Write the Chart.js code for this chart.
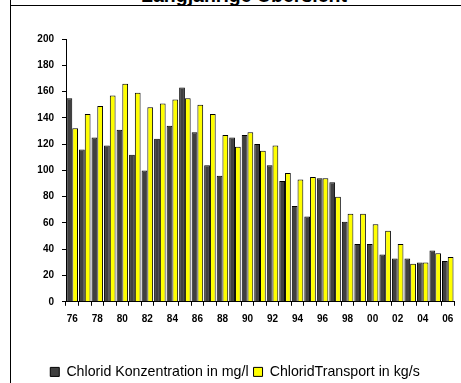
<!DOCTYPE html>
<html lang="de">
<head>
    <meta charset="UTF-8">
    <title>Langjährige Übersicht</title>
    <script src="https://cdn.jsdelivr.net/npm/chart.js"></script>
    <style>
        body { margin: 0; width: 461px; height: 383px; overflow: hidden; position: relative; background: #fff; font-family: "Liberation Sans", Arial, sans-serif; }
        #title { position: absolute; left: 0; width: 488px; top: -14.5px; text-align: center; font-weight: bold; font-size: 19.5px; line-height: 19.5px; white-space: nowrap; }
        #frameLeft { position: absolute; left: 10px; top: 0; width: 1px; height: 383px; background: #000; }
        #frameTop { position: absolute; left: 10px; top: 5px; width: 451px; height: 1px; background: #000; }
        #wrap { position: absolute; left: 0; top: 0; width: 461px; height: 400px; }
    </style>
</head>
<body>
    <div id="title">Langjährige Übersicht</div>
    <div id="frameLeft"></div>
    <div id="frameTop"></div>
    <div id="wrap"><canvas id="barChart"></canvas></div>

    <script>
        // Jahre 1976 - 2006
        const years = ["76", "77", "78", "79", "80", "81", "82", "83", "84", "85", "86", "87", "88", "89", "90",
                       "91", "92", "93", "94", "95", "96", "97", "98", "99", "00", "01", "02", "03", "04", "05", "06"];
        const konzentration = [155, 116, 125, 119, 131, 112, 100, 124, 134, 163, 129, 104, 96, 125, 127,
                               120, 104, 92, 73, 65, 94, 91, 61, 44, 44, 36, 33, 33, 30, 39, 31];
        const transport = [132, 143, 149, 157, 166, 159, 148, 151, 154, 155, 150, 143, 127, 118, 129,
                           115, 119, 98, 93, 95, 94, 80, 67, 67, 59, 54, 44, 29, 30, 37, 34];
        const yTicks = [0, 20, 40, 60, 80, 100, 120, 140, 160, 180, 200];

        const tickFont = { family: "Liberation Sans", size: 10, weight: "bold" };

        const ctx = document.getElementById("barChart").getContext("2d");
        new Chart(ctx, {
            type: "bar",
            data: {
                labels: years,
                datasets: [
                    { label: "Chlorid Konzentration in mg/l", data: konzentration, backgroundColor: "#404040", borderColor: "#000", borderWidth: 1 },
                    { label: "ChloridTransport in kg/s", data: transport, backgroundColor: "#ffff00", borderColor: "#000", borderWidth: 1 }
                ]
            },
            options: {
                responsive: true,
                maintainAspectRatio: false,
                animation: false,
                datasets: { bar: { categoryPercentage: 0.92, barPercentage: 1.0, borderSkipped: "bottom" } },
                layout: { padding: { left: 16, right: 7, top: 39, bottom: 11 } },
                plugins: {
                    tooltip: { enabled: false },
                    legend: {
                        position: "bottom",
                        labels: {
                            color: "#000",
                            boxWidth: 9,
                            boxHeight: 9,
                            padding: 5,
                            font: { family: "Liberation Sans", size: 14.2 }
                        }
                    }
                },
                scales: {
                    x: {
                        grid: { display: true, drawOnChartArea: false, drawTicks: true, tickLength: 4, color: "#000", offset: true },
                        border: { display: true, color: "#000", width: 1 },
                        ticks: {
                            color: "#000",
                            font: tickFont,
                            autoSkip: false,
                            maxRotation: 0,
                            padding: 7,
                            callback: (v, i) => (i % 2 === 0 ? years[i] : "")
                        },
                        afterFit: (scale) => { scale.height = 58; }
                    },
                    y: {
                        min: 0,
                        max: 200,
                        afterBuildTicks: (scale) => { scale.ticks = yTicks.map((v) => ({ value: v })); },
                        grid: { display: true, drawOnChartArea: false, drawTicks: true, tickLength: 4, color: "#000" },
                        border: { display: true, color: "#000", width: 1 },
                        ticks: { color: "#000", font: tickFont, padding: 8 },
                        afterFit: (scale) => { scale.width = 50; }
                    }
                }
            }
        });
    </script>
</body>
</html>
